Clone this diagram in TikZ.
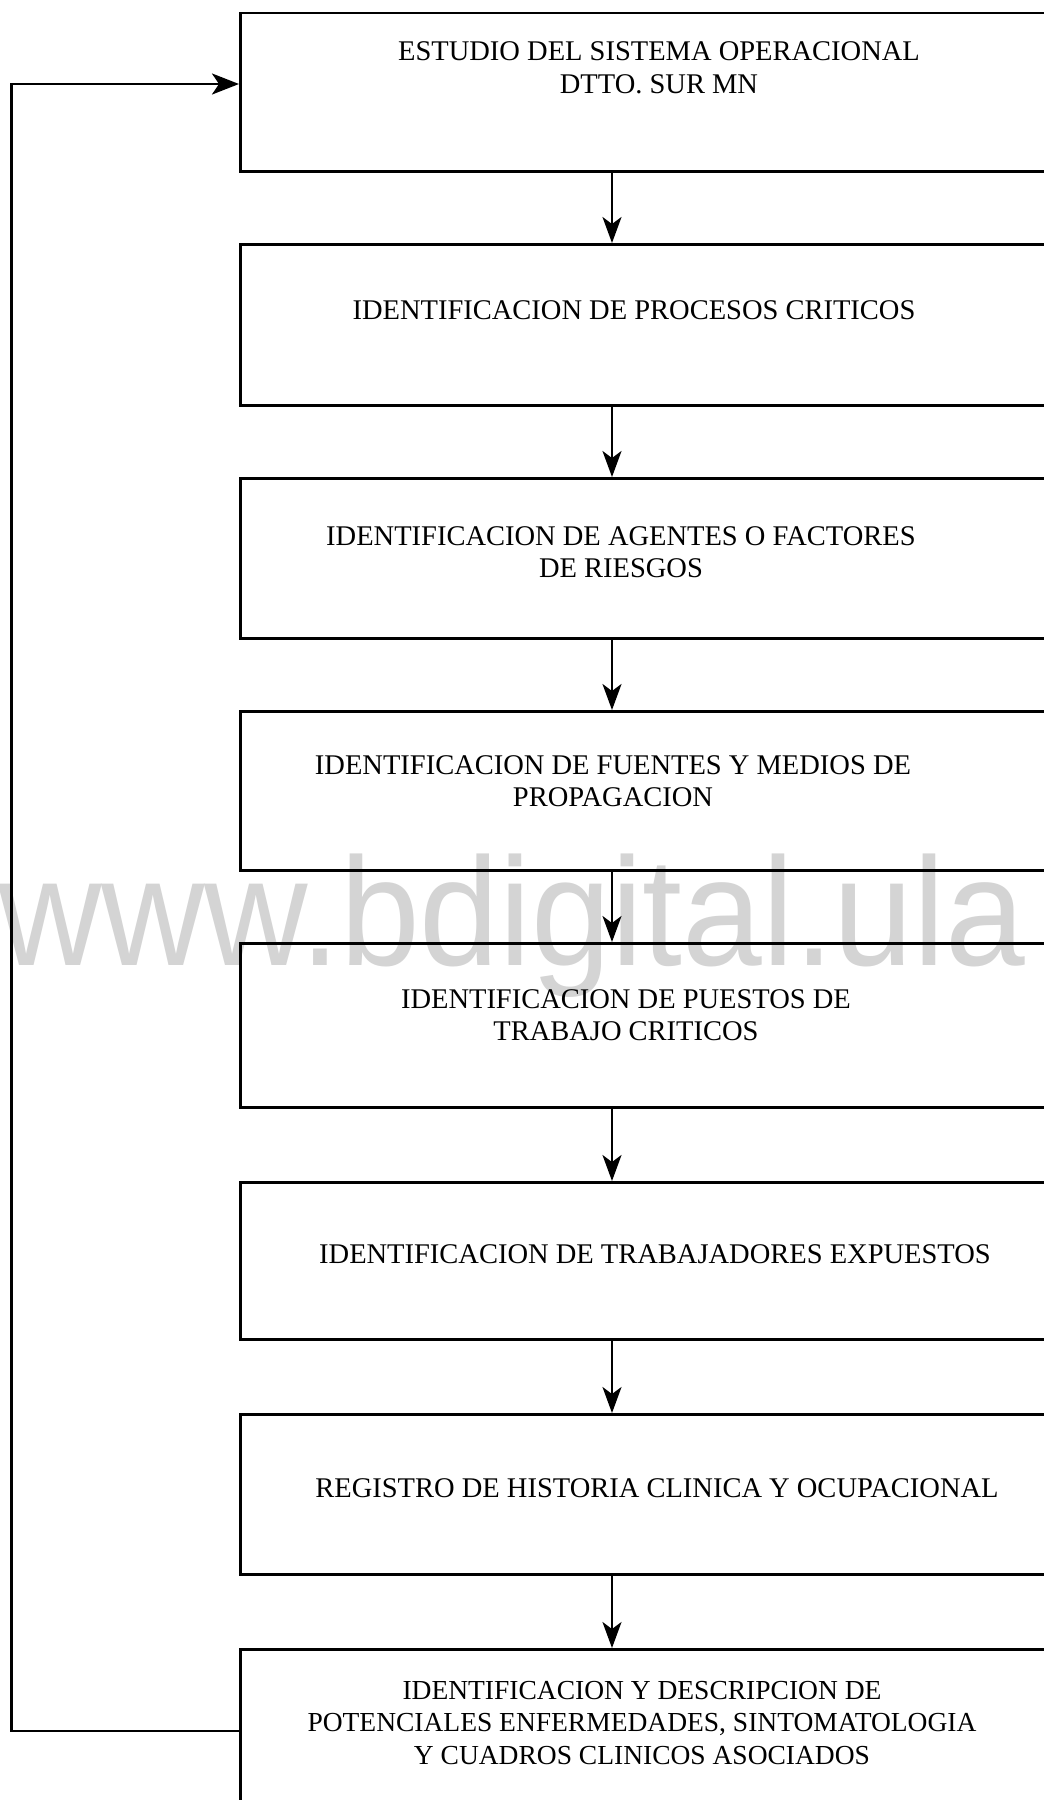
\documentclass[tikz,border=0pt]{standalone}
\usepackage{fontspec}
\setmainfont{Liberation Serif}
\newfontfamily\wmfont{Liberation Sans}
\usetikzlibrary{arrows.meta}
\tikzset{
  stepbox/.style={draw=black, line width=2.8pt, rectangle, inner sep=0pt, minimum width=900pt, anchor=north west},
  label/.style={align=center, inner sep=0pt, font=\fontsize{28.5}{32.5}\selectfont, text=black},
  arr/.style={line width=2.2pt, -{Stealth[length=26pt, width=19pt, inset=7pt]}},
  fb/.style={line width=2.8pt, -{Stealth[length=27pt, width=21pt, inset=7pt]}}
}
\begin{document}
\begin{tikzpicture}[x=1pt,y=-1pt]
\useasboundingbox (0,0) rectangle (1044,1800);
\clip (0,0) rectangle (1044,1800);
\fill[white] (0,0) rectangle (1044,1800);
% watermark
\node[anchor=base west, inner sep=0pt, text=black!17, font=\wmfont\fontsize{154}{154}\selectfont, xscale=0.93] (wm) at (-2,965) {www.bdigital.ula};
% boxes
\node[stepbox, minimum height=158.5pt] (b1) at (239,11.5) {};
\node[stepbox, minimum height=161pt] (b2) at (239,243) {};
\node[stepbox, minimum height=160pt] (b3) at (239,477) {};
\node[stepbox, minimum height=159pt] (b4) at (239,710) {};
\node[stepbox, minimum height=164pt] (b5) at (239,942) {};
\node[stepbox, minimum height=157pt] (b6) at (239,1181) {};
\node[stepbox, minimum height=160pt] (b7) at (239,1413) {};
\node[stepbox, minimum height=166pt] (b8) at (239,1648) {};
% texts
\node[label] (t1) at (659,68) {ESTUDIO DEL SISTEMA OPERACIONAL\\DTTO. SUR MN};
\node[label] (t2) at (634,310) {IDENTIFICACION DE PROCESOS CRITICOS};
\node[label] (t3) at (621,552) {IDENTIFICACION DE AGENTES O FACTORES\\DE RIESGOS};
\node[label] (t4) at (613,781) {IDENTIFICACION DE FUENTES Y MEDIOS DE\\PROPAGACION};
\node[label] (t5) at (626,1015) {IDENTIFICACION DE PUESTOS DE\\TRABAJO CRITICOS};
\node[label] (t6) at (655,1254) {IDENTIFICACION DE TRABAJADORES EXPUESTOS};
\node[label] (t7) at (657,1488) {REGISTRO DE HISTORIA CLINICA Y OCUPACIONAL};
\node[label, font=\fontsize{27.5}{32.5}\selectfont] (t8) at (642,1723) {IDENTIFICACION Y DESCRIPCION DE\\POTENCIALES ENFERMEDADES, SINTOMATOLOGIA\\Y CUADROS CLINICOS ASOCIADOS};
% connectors
\coordinate (ax) at (612,0);
\coordinate (fbx) at (11.5,0);
\coordinate (in1) at (0,84);
\coordinate (out8) at (0,1731);
\draw[arr] (b1.south west -| ax) -- (b2.north west -| ax);
\draw[arr] (b2.south west -| ax) -- (b3.north west -| ax);
\draw[arr] (b3.south west -| ax) -- (b4.north west -| ax);
\draw[arr] (b4.south west -| ax) -- (b5.north west -| ax);
\draw[arr] (b5.south west -| ax) -- (b6.north west -| ax);
\draw[arr] (b6.south west -| ax) -- (b7.north west -| ax);
\draw[arr] (b7.south west -| ax) -- (b8.north west -| ax);
\draw[fb] (b8.west |- out8) -- (fbx |- out8) -- (fbx |- in1) -- (b1.west |- in1);
\end{tikzpicture}
\end{document}
